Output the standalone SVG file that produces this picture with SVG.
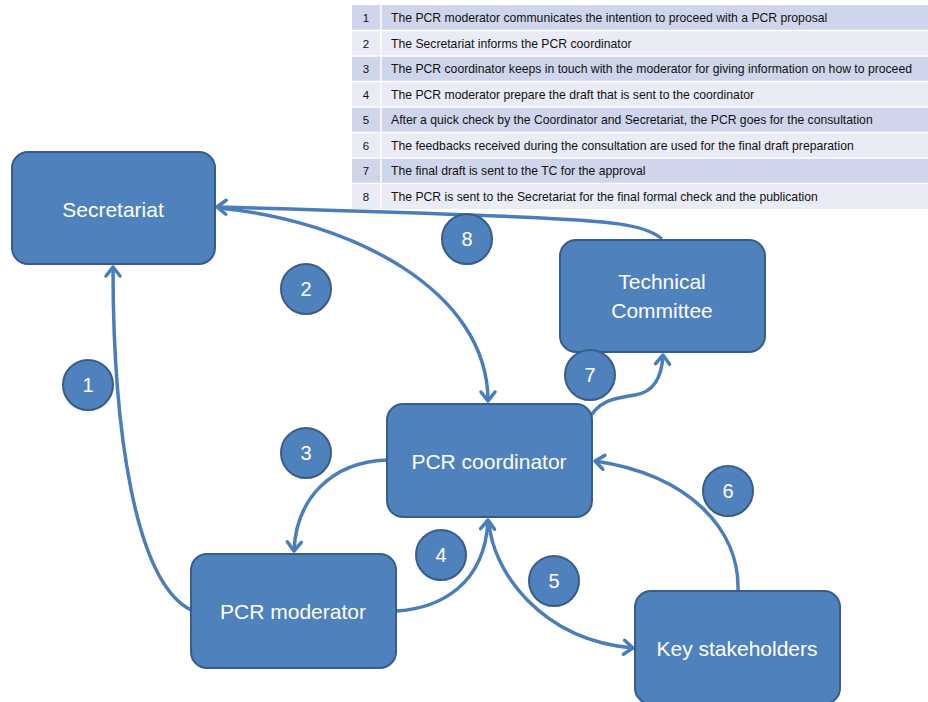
<svg xmlns="http://www.w3.org/2000/svg" width="928" height="702" viewBox="0 0 928 702">
<defs>
<style>
.node{fill:#4f81bd;stroke:#385d8a;stroke-width:2}
.lbl{font-family:"Liberation Sans",Arial,sans-serif;font-size:21px;fill:#fff;text-anchor:middle}
.num{font-family:"Liberation Sans",Arial,sans-serif;font-size:20px;fill:#fff;text-anchor:middle}
.conn{fill:none;stroke:#4a7ebb;stroke-width:3.5}
.odd{fill:#cfd5ea}
.even{fill:#e9ebf5}
.tt{font-family:"Liberation Sans",Arial,sans-serif;font-size:12.2px;fill:#111}
.tn{font-family:"Liberation Sans",Arial,sans-serif;font-size:11.5px;fill:#111;text-anchor:middle}
</style>
<marker id="arr" markerUnits="userSpaceOnUse" markerWidth="24" markerHeight="24" refX="12" refY="12" orient="auto" viewBox="0 0 24 24">
<path d="M3,5 L12,12 L3,19" fill="none" stroke="#4a7ebb" stroke-width="3.5" stroke-linecap="round" stroke-linejoin="round"/>
</marker>
</defs>
<rect width="928" height="702" fill="#fff"/>
<g id="table">
<rect class="odd" x="352" y="5" width="576" height="25.5"/>
<rect class="even" x="352" y="30.5" width="576" height="25.5"/>
<rect class="odd" x="352" y="56" width="576" height="25.5"/>
<rect class="even" x="352" y="81.5" width="576" height="25.5"/>
<rect class="odd" x="352" y="107" width="576" height="25.5"/>
<rect class="even" x="352" y="132.5" width="576" height="25.5"/>
<rect class="odd" x="352" y="158" width="576" height="25.5"/>
<rect class="even" x="352" y="183.5" width="576" height="25.5"/>
<g stroke="#fff" stroke-width="1.5">
<line x1="381" y1="5" x2="381" y2="209"/>
<line x1="352" y1="30.5" x2="928" y2="30.5"/>
<line x1="352" y1="56" x2="928" y2="56"/>
<line x1="352" y1="81.5" x2="928" y2="81.5"/>
<line x1="352" y1="107" x2="928" y2="107"/>
<line x1="352" y1="132.5" x2="928" y2="132.5"/>
<line x1="352" y1="158" x2="928" y2="158"/>
<line x1="352" y1="183.5" x2="928" y2="183.5"/>
</g>
<text class="tn" x="366" y="22">1</text>
<text class="tn" x="366" y="47.5">2</text>
<text class="tn" x="366" y="73">3</text>
<text class="tn" x="366" y="98.5">4</text>
<text class="tn" x="366" y="124">5</text>
<text class="tn" x="366" y="149.5">6</text>
<text class="tn" x="366" y="175">7</text>
<text class="tn" x="366" y="200.5">8</text>
<text class="tt" x="391" y="22">The PCR moderator communicates the intention to proceed with a PCR proposal</text>
<text class="tt" x="391" y="47.5">The Secretariat informs the PCR coordinator</text>
<text class="tt" x="391" y="73">The PCR coordinator keeps in touch with the moderator for giving information on how to proceed</text>
<text class="tt" x="391" y="98.5">The PCR moderator prepare the draft that is sent to the coordinator</text>
<text class="tt" x="391" y="124">After a quick check by the Coordinator and Secretariat, the PCR goes for the consultation</text>
<text class="tt" x="391" y="149.5">The feedbacks received during the consultation are used for the final draft preparation</text>
<text class="tt" x="391" y="175">The final draft is sent to the TC for the approval</text>
<text class="tt" x="391" y="200.5">The PCR is sent to the Secretariat for the final formal check and the publication</text>
</g>
<g id="connectors">
<path class="conn" d="M191,610 C135,582 113,430 113,267" marker-end="url(#arr)"/>
<path class="conn" d="M218,208 C350,220 488,290 488,401" marker-end="url(#arr)"/>
<path class="conn" d="M662,239 C645,224 610,221 520,217 Q400,212 217,207" marker-end="url(#arr)"/>
<path class="conn" d="M387,460 C330,462 296,500 294,551" marker-end="url(#arr)"/>
<path class="conn" d="M397,611 C440,608 485,585 488,520" marker-end="url(#arr)"/>
<path class="conn" d="M489,522 C492,570 540,640 633,648" marker-end="url(#arr)"/>
<path class="conn" d="M738,591 C740,530 690,475 595,461" marker-end="url(#arr)"/>
<path class="conn" d="M587,422 C598,400 615,398 635,395 C655,392 662,375 663,355" marker-end="url(#arr)"/>
</g>
<g id="secretariat">
<rect class="node" x="12" y="152" width="203" height="112" rx="16"/>
<text class="lbl" x="113" y="217">Secretariat</text>
</g>
<g id="technical-committee">
<rect class="node" x="560" y="240" width="205" height="112" rx="16"/>
<text class="lbl" x="662" y="289">Technical</text>
<text class="lbl" x="662" y="318">Committee</text>
</g>
<g id="pcr-coordinator">
<rect class="node" x="387" y="404" width="205" height="113" rx="16"/>
<text class="lbl" x="489" y="469">PCR coordinator</text>
</g>
<g id="pcr-moderator">
<rect class="node" x="191" y="554" width="205" height="114" rx="16"/>
<text class="lbl" x="293" y="619">PCR moderator</text>
</g>
<g id="key-stakeholders">
<rect class="node" x="635" y="591" width="205" height="113" rx="16"/>
<text class="lbl" x="737" y="656">Key stakeholders</text>
</g>
<g id="step-1"><circle class="node" cx="88" cy="385" r="25"/><text class="num" x="88" y="392">1</text></g>
<g id="step-2"><circle class="node" cx="306" cy="289" r="25"/><text class="num" x="306" y="296">2</text></g>
<g id="step-3"><circle class="node" cx="306" cy="453" r="25"/><text class="num" x="306" y="460">3</text></g>
<g id="step-4"><circle class="node" cx="441" cy="555" r="25"/><text class="num" x="441" y="562">4</text></g>
<g id="step-5"><circle class="node" cx="554" cy="581" r="25"/><text class="num" x="554" y="588">5</text></g>
<g id="step-6"><circle class="node" cx="728" cy="491" r="25"/><text class="num" x="728" y="498">6</text></g>
<g id="step-7"><circle class="node" cx="590" cy="375" r="25"/><text class="num" x="590" y="382">7</text></g>
<g id="step-8"><circle class="node" cx="467" cy="239" r="25"/><text class="num" x="467" y="246">8</text></g>
</svg>
